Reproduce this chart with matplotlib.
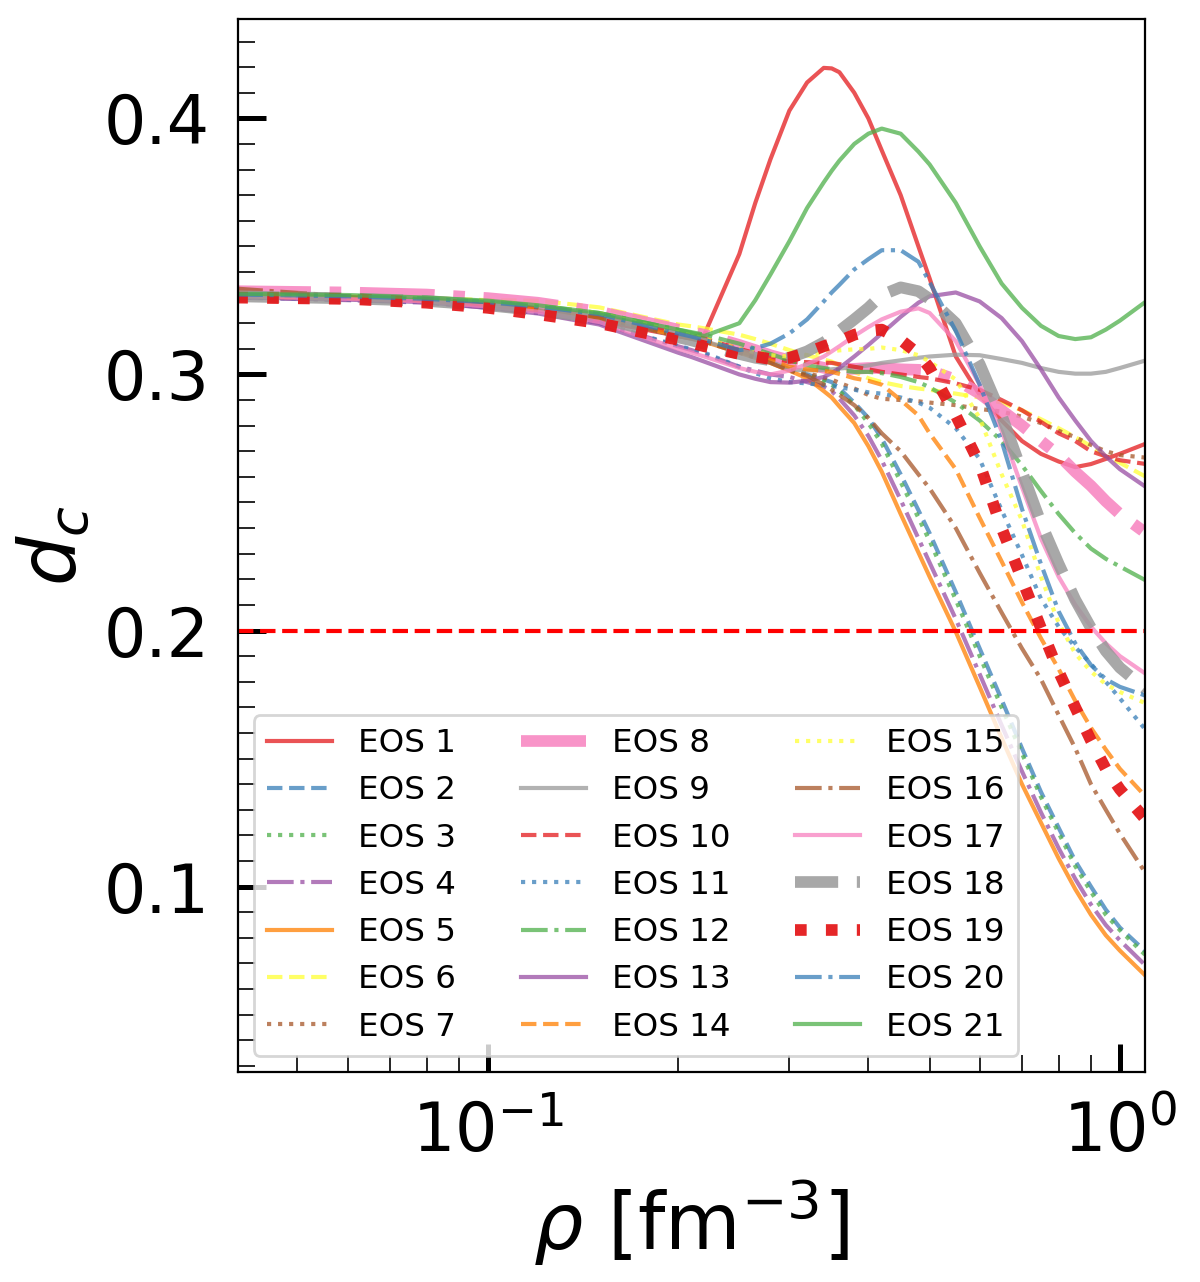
import matplotlib.pyplot as plt
from matplotlib.ticker import MultipleLocator

rho = [0.04, 0.06, 0.08, 0.1, 0.12, 0.15, 0.2, 0.21, 0.22, 0.25, 0.265, 0.28, 0.3, 0.32, 0.34, 0.35, 0.36,
       0.38, 0.4, 0.42, 0.45, 0.48, 0.5, 0.55, 0.6, 0.65, 0.7, 0.75, 0.8, 0.85, 0.9, 0.95, 1.0, 1.1]

eos_1 = [0.331, 0.330, 0.329, 0.327, 0.325, 0.321, 0.315, 0.3145, 0.3155, 0.347, 0.367, 0.384, 0.403, 0.414, 0.4197, 0.4195, 0.418,
         0.410, 0.400, 0.3875, 0.370, 0.350, 0.3375, 0.307, 0.292, 0.282, 0.274, 0.269, 0.266, 0.2638, 0.265, 0.267, 0.269, 0.273]
eos_2 = [0.330, 0.3295, 0.3285, 0.327, 0.325, 0.322, 0.315, 0.314, 0.313, 0.309, 0.307, 0.305, 0.302, 0.300, 0.298, 0.297, 0.2945,
         0.289, 0.283, 0.275, 0.261, 0.247, 0.238, 0.215, 0.193, 0.173, 0.154, 0.137, 0.123, 0.110, 0.100, 0.091, 0.084, 0.0745]
eos_3 = [0.331, 0.3302, 0.3292, 0.3278, 0.3258, 0.3228, 0.3158, 0.3148, 0.3138, 0.3098, 0.3078, 0.306, 0.3028, 0.300, 0.2975, 0.296, 0.2935,
         0.288, 0.281, 0.273, 0.258, 0.244, 0.235, 0.212, 0.190, 0.170, 0.152, 0.135, 0.121, 0.108, 0.098, 0.089, 0.083, 0.073]
eos_4 = [0.330, 0.329, 0.328, 0.326, 0.324, 0.320, 0.311, 0.3095, 0.308, 0.303, 0.3015, 0.300, 0.299, 0.297, 0.2953, 0.2935, 0.2905,
         0.284, 0.276, 0.2665, 0.251, 0.236, 0.2265, 0.2045, 0.183, 0.163, 0.145, 0.129, 0.115, 0.103, 0.093, 0.085, 0.079, 0.069]
eos_5 = [0.3305, 0.3298, 0.3288, 0.3272, 0.3252, 0.3222, 0.3152, 0.314, 0.3128, 0.3085, 0.3065, 0.3045, 0.3015, 0.2985, 0.2935, 0.291, 0.2875,
         0.281, 0.272, 0.262, 0.2455, 0.2305, 0.221, 0.1995, 0.178, 0.158, 0.140, 0.125, 0.111, 0.099, 0.089, 0.081, 0.075, 0.065]
eos_6 = [0.331, 0.3305, 0.3298, 0.329, 0.3288, 0.3262, 0.3195, 0.3188, 0.318, 0.3155, 0.3138, 0.312, 0.3095, 0.3075, 0.3058, 0.305, 0.3035,
         0.301, 0.2985, 0.297, 0.2955, 0.2945, 0.294, 0.2925, 0.291, 0.289, 0.286, 0.2825, 0.279, 0.2755, 0.272, 0.268, 0.2655, 0.260]
eos_7 = [0.331, 0.330, 0.329, 0.3275, 0.3255, 0.3225, 0.3155, 0.3145, 0.3135, 0.3095, 0.3073, 0.305, 0.302, 0.3005, 0.2988, 0.298, 0.2967,
         0.2945, 0.292, 0.2905, 0.290, 0.2895, 0.289, 0.288, 0.2865, 0.2855, 0.2835, 0.281, 0.278, 0.2755, 0.2725, 0.270, 0.2685, 0.2675]
eos_8 = [0.3325, 0.332, 0.3312, 0.3298, 0.328, 0.3245, 0.3175, 0.3165, 0.3155, 0.3115, 0.3095, 0.3075, 0.3055, 0.304, 0.3026, 0.302, 0.302,
         0.3022, 0.3025, 0.3025, 0.302, 0.3018, 0.3015, 0.298, 0.2925, 0.286, 0.280, 0.274, 0.2685, 0.262, 0.2565, 0.2505, 0.2455, 0.238]
eos_9 = [0.3305, 0.3298, 0.3288, 0.3272, 0.3252, 0.3222, 0.3152, 0.3141, 0.313, 0.309, 0.307, 0.305, 0.302, 0.3015, 0.3018, 0.302, 0.3023,
         0.3028, 0.3035, 0.3045, 0.3055, 0.3065, 0.307, 0.3077, 0.3075, 0.306, 0.3045, 0.3025, 0.301, 0.3003, 0.3003, 0.301, 0.3025, 0.3055]
eos_10 = [0.331, 0.3302, 0.3292, 0.3278, 0.3258, 0.3228, 0.316, 0.315, 0.314, 0.310, 0.3083, 0.3065, 0.305, 0.3048, 0.3046, 0.3045, 0.304,
          0.303, 0.302, 0.301, 0.300, 0.299, 0.2985, 0.2965, 0.294, 0.290, 0.286, 0.2815, 0.277, 0.274, 0.270, 0.268, 0.2665, 0.265]
eos_11 = [0.3302, 0.3292, 0.3282, 0.3262, 0.3242, 0.3202, 0.3112, 0.3098, 0.3085, 0.303, 0.3005, 0.2985, 0.297, 0.2965, 0.2958, 0.2955, 0.295,
          0.294, 0.293, 0.2925, 0.291, 0.289, 0.287, 0.279, 0.267, 0.247, 0.2295, 0.2125, 0.2015, 0.1935, 0.187, 0.180, 0.1735, 0.161]
eos_12 = [0.3312, 0.3305, 0.3297, 0.3285, 0.3268, 0.324, 0.3175, 0.3165, 0.3155, 0.312, 0.310, 0.308, 0.3055, 0.3035, 0.3025, 0.302, 0.3016,
          0.301, 0.301, 0.3005, 0.299, 0.297, 0.295, 0.289, 0.282, 0.274, 0.2645, 0.2545, 0.2455, 0.238, 0.232, 0.228, 0.225, 0.2195]
eos_13 = [0.3302, 0.3292, 0.3282, 0.326, 0.3238, 0.3195, 0.3085, 0.3068, 0.305, 0.300, 0.2983, 0.297, 0.2968, 0.2975, 0.299, 0.3005, 0.3025,
          0.307, 0.3115, 0.316, 0.3225, 0.328, 0.3305, 0.332, 0.3285, 0.322, 0.313, 0.302, 0.291, 0.282, 0.274, 0.268, 0.263, 0.256]
eos_14 = [0.3305, 0.3298, 0.3288, 0.3272, 0.3252, 0.3222, 0.315, 0.314, 0.313, 0.309, 0.3072, 0.3055, 0.303, 0.302, 0.3013, 0.301, 0.3002,
          0.2985, 0.2975, 0.296, 0.290, 0.284, 0.277, 0.263, 0.244, 0.227, 0.211, 0.197, 0.185, 0.1725, 0.162, 0.1535, 0.146, 0.135]
eos_15 = [0.331, 0.3305, 0.3297, 0.3285, 0.3268, 0.324, 0.3165, 0.3153, 0.314, 0.310, 0.3087, 0.3075, 0.307, 0.3075, 0.3085, 0.309, 0.3094,
          0.3098, 0.310, 0.3105, 0.3095, 0.3075, 0.305, 0.298, 0.283, 0.261, 0.243, 0.221, 0.203, 0.191, 0.184, 0.179, 0.176, 0.1715]
eos_16 = [0.3335, 0.3305, 0.329, 0.3272, 0.3252, 0.3222, 0.315, 0.3139, 0.3128, 0.3085, 0.3065, 0.3045, 0.3015, 0.2995, 0.296, 0.294, 0.292,
          0.288, 0.283, 0.277, 0.270, 0.261, 0.2555, 0.240, 0.2225, 0.207, 0.193, 0.181, 0.167, 0.154, 0.140, 0.130, 0.1207, 0.105]
eos_17 = [0.3305, 0.3295, 0.3285, 0.3265, 0.3245, 0.3205, 0.310, 0.3085, 0.307, 0.3025, 0.301, 0.300, 0.3015, 0.304, 0.307, 0.309, 0.311,
          0.315, 0.3185, 0.3215, 0.3245, 0.3258, 0.324, 0.313, 0.296, 0.278, 0.256, 0.236, 0.221, 0.210, 0.2015, 0.195, 0.190, 0.183]
eos_18 = [0.3305, 0.3297, 0.3287, 0.327, 0.325, 0.322, 0.3145, 0.3133, 0.312, 0.308, 0.3065, 0.3055, 0.3065, 0.309, 0.3125, 0.3145, 0.317,
          0.3215, 0.326, 0.331, 0.334, 0.3325, 0.3295, 0.320, 0.304, 0.284, 0.262, 0.242, 0.226, 0.212, 0.201, 0.192, 0.1855, 0.177]
eos_19 = [0.330, 0.3295, 0.328, 0.326, 0.3235, 0.320, 0.3135, 0.3123, 0.311, 0.308, 0.307, 0.306, 0.3065, 0.3085, 0.311, 0.312, 0.313,
          0.3155, 0.317, 0.3175, 0.3135, 0.308, 0.3025, 0.284, 0.265, 0.240, 0.220, 0.201, 0.184, 0.170, 0.157, 0.146, 0.138, 0.126]
eos_20 = [0.3312, 0.3305, 0.3295, 0.3282, 0.3265, 0.3235, 0.316, 0.3148, 0.3135, 0.3095, 0.3103, 0.312, 0.316, 0.3215, 0.3285, 0.332, 0.335,
          0.341, 0.345, 0.3485, 0.3485, 0.344, 0.336, 0.317, 0.296, 0.274, 0.2475, 0.226, 0.2075, 0.195, 0.1865, 0.181, 0.178, 0.1745]
eos_21 = [0.3315, 0.331, 0.330, 0.3288, 0.327, 0.324, 0.3175, 0.3162, 0.315, 0.320, 0.329, 0.339, 0.352, 0.365, 0.375, 0.3795, 0.3835,
          0.390, 0.394, 0.396, 0.394, 0.387, 0.382, 0.367, 0.350, 0.3355, 0.326, 0.319, 0.315, 0.3138, 0.3145, 0.3175, 0.321, 0.3285]

curves = [eos_1, eos_2, eos_3, eos_4, eos_5, eos_6, eos_7, eos_8, eos_9, eos_10, eos_11,
          eos_12, eos_13, eos_14, eos_15, eos_16, eos_17, eos_18, eos_19, eos_20, eos_21]
labels = [f"EOS {i}" for i in range(1, 22)]

d_c_limit = 0.2

set1 = ['#e41a1c', '#377eb8', '#4daf4a', '#984ea3', '#ff7f00',
        '#ffff33', '#a65628', '#f781bf', '#999999']
styles = ['-', '--', ':', '-.']

fig, ax = plt.subplots(figsize=(6, 6.41), dpi=200)
fig.subplots_adjust(left=0.198, right=0.954, top=0.985, bottom=0.164)

for k, (y, lab) in enumerate(zip(curves, labels)):
    lw, alpha = 1.5, 0.75
    if k in (7, 17):   # EOS 8 and EOS 18 drawn heavier
        lw, alpha = 4.2, 0.85
    if k == 18:        # EOS 19
        lw, alpha = 4.2, 0.95
    ax.plot(rho, y, color=set1[k % 9], ls=styles[k % 4], lw=lw, alpha=alpha, label=lab)

ax.axhline(d_c_limit, color='red', ls='--', lw=1.5)

ax.set_xscale('log')
ax.set_xlim(0.0402, 1.095)
ax.set_ylim(0.0277, 0.4387)
ax.yaxis.set_major_locator(MultipleLocator(0.1))
ax.yaxis.set_minor_locator(MultipleLocator(0.01))

ax.tick_params(which='both', direction='in', labelsize=24, pad=10)
ax.tick_params(which='major', length=10, width=1.8)
ax.tick_params(which='minor', length=6, width=0.6)

ax.set_xlabel(r'$\rho$ [fm$^{-3}$]', fontsize=28)
ax.set_ylabel(r'$d_c$', fontsize=28)

ax.legend(loc='lower left', ncol=3, fontsize=11.7, labelspacing=0.5)

fig.savefig('out.png', dpi=200)
